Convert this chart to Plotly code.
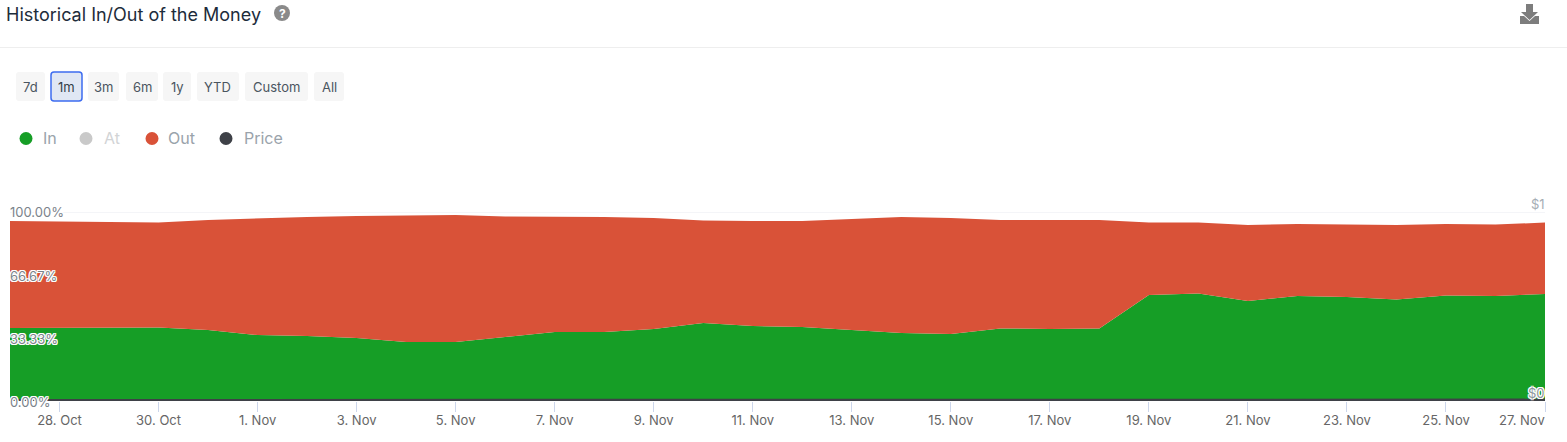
import plotly.graph_objects as go
import pandas as pd

W, H = 1567, 442
dates = pd.date_range("2023-10-27", "2023-11-27", freq="D")
in_vals = [38.6,38.6,38.9,38.9,37.6,34.9,34.4,33.3,31.2,31.2,33.9,36.5,36.5,38.1,41.3,39.7,
           39.2,37.6,36.0,35.4,38.4,38.1,38.4,56.1,56.9,52.9,55.6,55.0,53.7,55.8,55.6,56.6]
out_vals = [56.6,56.4,56.1,55.5,58.2,61.9,63.0,64.6,66.9,67.2,63.7,61.1,60.9,58.7,54.2,55.5,
            56.0,58.7,61.4,61.4,57.4,57.7,57.4,38.3,37.5,40.2,38.1,38.4,39.4,37.9,37.8,37.8]
price_vals = [0.004,0.004,0.004,0.004,0.004,0.004,0.004,0.004,0.004,0.004,0.004,0.004,0.004,0.004,0.004,0.004,
              0.004,0.004,0.004,0.004,0.004,0.004,0.004,0.006,0.007,0.006,0.006,0.006,0.006,0.006,0.006,0.006]
y_ticks = [0, 33.33, 66.67, 100]
y_labels = ["0.00%", "33.33%", "66.67%", "100.00%"]
x_ticks = ["2023-10-28","2023-10-30","2023-11-01","2023-11-03","2023-11-05","2023-11-07","2023-11-09",
           "2023-11-11","2023-11-13","2023-11-15","2023-11-17","2023-11-19","2023-11-21","2023-11-23",
           "2023-11-25","2023-11-27"]
x_labels = ["28. Oct","30. Oct","1. Nov","3. Nov","5. Nov","7. Nov","9. Nov","11. Nov","13. Nov","15. Nov",
            "17. Nov","19. Nov","21. Nov","23. Nov","25. Nov",""]
last_label = "27. Nov"
buttons = ["7d","1m","3m","6m","1y","YTD","Custom","All"]
button_edges = [(16,45),(51,82),(88,119),(126,158),(163,191),(197,239),(245,308),(314,344)]
legend_names = ["In","At","Out","Price"]
legend_colors = ["#169e26","#c9c9c9","#d95238","#3e4147"]
legend_text_colors = ["#9aa3ab","#d2d4d6","#9aa3ab","#9aa3ab"]
legend_dot_x = [26,86,152,226]
legend_text_x = [43,104,168,244]

FONT = "Inter, 'Open Sans', sans-serif"
GREEN, RED, DARK = "#169e26", "#d95238", "#3e4147"
OUTLINE = "1px 0 0 #fff,-1px 0 0 #fff,0 1px 0 #fff,0 -1px 0 #fff,1px 1px 0 #fff,-1px -1px 0 #fff,1px -1px 0 #fff,-1px 1px 0 #fff"

fx = lambda p: p / W
fy = lambda p: 1 - p / H

fig = go.Figure()
fig.add_trace(go.Scatter(x=dates, y=in_vals, name="In", mode="lines", stackgroup="a",
                         line=dict(width=0, color=GREEN), fillcolor=GREEN))
fig.add_trace(go.Scatter(x=dates, y=out_vals, name="Out", mode="lines", stackgroup="a",
                         line=dict(width=0, color=RED), fillcolor=RED))
fig.add_trace(go.Scatter(x=dates, y=price_vals, name="Price", mode="lines", yaxis="y2", cliponaxis=False,
                         line=dict(width=2.5, color=DARK)))

shapes, ann = [], []
def rrect(x0, y0, x1, y1, r=3):
    return (f"M{fx(x0+r)},{fy(y0)} L{fx(x1-r)},{fy(y0)} Q{fx(x1)},{fy(y0)} {fx(x1)},{fy(y0+r)} "
            f"L{fx(x1)},{fy(y1-r)} Q{fx(x1)},{fy(y1)} {fx(x1-r)},{fy(y1)} L{fx(x0+r)},{fy(y1)} "
            f"Q{fx(x0)},{fy(y1)} {fx(x0)},{fy(y1-r)} L{fx(x0)},{fy(y0+r)} Q{fx(x0)},{fy(y0)} {fx(x0+r)},{fy(y0)} Z")
def text(x, y, s, size, color, anchor="left", **kw):
    # annotations carry 2px of inner padding, so outer-anchored text is nudged back by it
    shift = {"left": -2, "right": 2, "center": 0}[anchor]
    ann.append(dict(x=fx(x + shift), y=fy(y), xref="paper", yref="paper", text=s, showarrow=False,
                    xanchor=anchor, yanchor="middle", font=dict(family=FONT, size=size, color=color, **kw)))
def poly(pts, color):
    d = "M" + " L".join(f"{fx(a)},{fy(b)}" for a, b in pts) + " Z"
    shapes.append(dict(type="path", xref="paper", yref="paper", path=d, fillcolor=color, line=dict(width=0)))

# header
text(6, 14, "Historical In/Out of the Money", 18, "#1d2c3b")
shapes.append(dict(type="line", xref="paper", yref="paper", x0=0, x1=1, y0=fy(47.5), y1=fy(47.5),
                   line=dict(color="#eeeeee", width=1)))
shapes.append(dict(type="circle", xref="paper", yref="paper", x0=fx(274), x1=fx(290), y0=fy(21), y1=fy(5),
                   fillcolor="#8a8a8a", line=dict(width=0)))
text(282, 13.5, "<b>?</b>", 12, "#ffffff", anchor="center")
poly([(1526,4),(1533,4),(1533,12),(1538,12),(1529.5,20),(1521,12),(1526,12)], "#7d7d7d")
poly([(1520,16),(1524,16),(1529.5,21),(1535,16),(1539,16),(1539,24),(1520,24)], "#7d7d7d")

# range buttons
for b, (x0, x1) in zip(buttons, button_edges):
    active = b == "1m"
    shapes.append(dict(type="path", xref="paper", yref="paper", path=rrect(x0, 72, x1, 101),
                       fillcolor="#e0e7f4" if active else "#f6f6f6",
                       line=dict(color="#3d6cf0", width=1.5) if active else dict(width=0)))
    text((x0 + x1) / 2, 87.5, b, 13, "#333d47" if active else "#4a5560", anchor="center")

# legend
for n, c, tc, dx, tx in zip(legend_names, legend_colors, legend_text_colors, legend_dot_x, legend_text_x):
    shapes.append(dict(type="circle", xref="paper", yref="paper", x0=fx(dx-6.5), x1=fx(dx+6.5),
                       y0=fy(145), y1=fy(132), fillcolor=c, line=dict(width=0)))
    text(tx, 138, n, 16, tc)

# top grid line of the axis
shapes.append(dict(type="line", xref="x", yref="y", x0=dates[0], x1=dates[-1], y0=y_ticks[-1], y1=y_ticks[-1],
                   line=dict(color="#e9ecf2", width=1)))

# y labels sit inside the plot, left aligned with a white outline
for v, s in zip(y_ticks, y_labels):
    ann.append(dict(x=fx(8), xref="paper", y=v, yref="y", text=s, showarrow=False, xanchor="left",
                    yanchor="middle", yshift=-1 if v < 100 else 0,
                    font=dict(family=FONT, size=13, color="#7b838b", shadow=OUTLINE)))

# last x label, pulled inside the plot edge; price axis labels
text(1545, 420, last_label, 13, "#666666", anchor="right")
ann.append(dict(x=fx(1547), xref="paper", y=1, yref="y2", text="$1", showarrow=False, xanchor="right",
                yanchor="middle", yshift=8, font=dict(family=FONT, size=13, color="#a6adb4")))
ann.append(dict(x=fx(1547), xref="paper", y=0, yref="y2", text="$0", showarrow=False, xanchor="right",
                yanchor="middle", yshift=8, font=dict(family=FONT, size=13, color="#8d959c", shadow=OUTLINE)))

fig.update_layout(
    width=W, height=H, margin=dict(l=0, r=0, t=0, b=0), autosize=False,
    paper_bgcolor="#ffffff", plot_bgcolor="#ffffff", showlegend=False,
    shapes=shapes, annotations=ann, font=dict(family=FONT),
    xaxis=dict(domain=[fx(10), fx(1545)], range=[dates[0], dates[-1]], tickmode="array",
               tickvals=x_ticks, ticktext=x_labels, ticks="outside", ticklen=10, tickwidth=1,
               tickcolor="#ccd6eb", showgrid=False, zeroline=False, showline=False, ticklabelstandoff=-3,
               tickfont=dict(family=FONT, size=13, color="#666666"), anchor="y"),
    yaxis=dict(domain=[fy(401), fy(212)], range=[0, 100], tickmode="array", tickvals=y_ticks,
               showticklabels=False, showgrid=True, gridcolor="#e9ecf2", gridwidth=1, zeroline=False,
               anchor="x", ticks=""),
    yaxis2=dict(domain=[fy(401), fy(212)], range=[0, 1], overlaying="y", side="right", showgrid=False,
                zeroline=False, showticklabels=False, ticks="", anchor="x"),
)
fig.write_html("out.html", config=dict(displayModeBar=False),
               post_script="document.body.style.margin='0';document.body.style.overflow='hidden';")
